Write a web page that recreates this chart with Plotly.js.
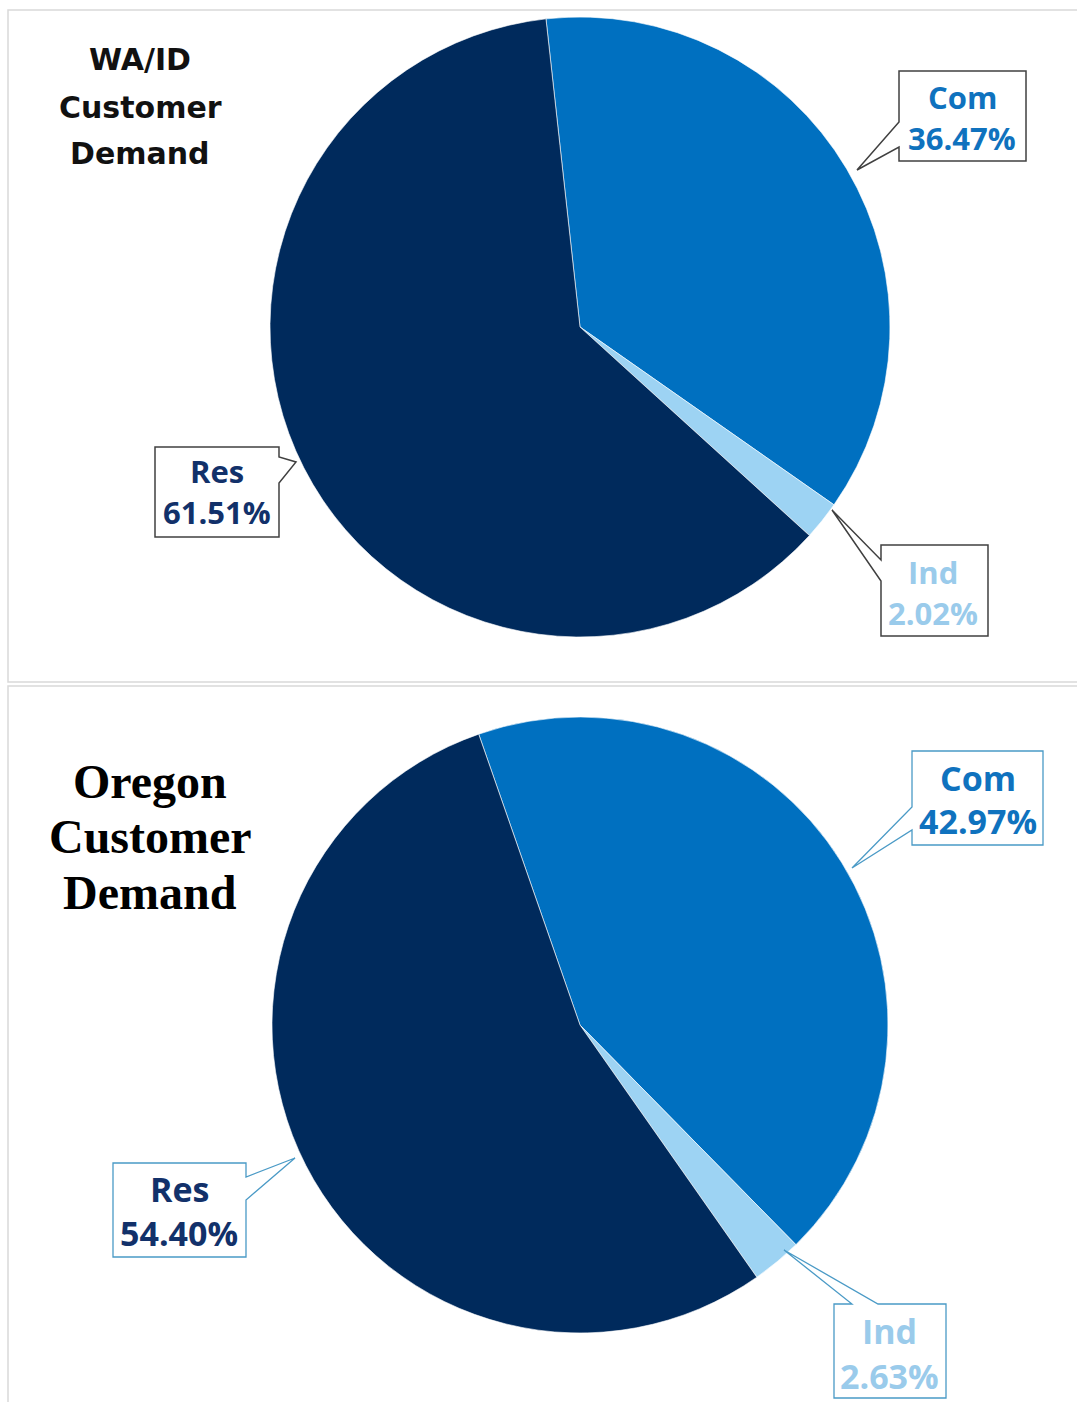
<!DOCTYPE html>
<html>
<head>
<meta charset="utf-8">
<script src="https://cdn.plot.ly/plotly-3.0.1.min.js"></script>
<style>
  html, body { margin: 0; padding: 0; background: #ffffff; }
  #chart { width: 1077px; height: 1402px; }
</style>
</head>
<body>
<div id="chart"></div>
<script>
// ---- Data ----
const categories = ['Com', 'Ind', 'Res'];
const waidShares = [36.47, 2.02, 61.51];
const oregonShares = [42.97, 2.63, 54.40];
const titleWaid = ['WA/ID', 'Customer', 'Demand'];
const titleOregon = ['Oregon', 'Customer', 'Demand'];

// ---- Styles ----
const W = 1077, H = 1402;
const sliceColors = ['#0070C0', '#9DD3F3', '#002A5C'];
const textColors = ['#0F72BE', '#9ACBEB', '#12316A'];
const px = x => x / W;
const py = y => 1 - y / H;

const fmt = v => v.toFixed(2) + '%';

const traces = [
  {
    type: 'pie', labels: categories, values: waidShares,
    sort: false, direction: 'clockwise', rotation: -6.3,
    textinfo: 'none', hoverinfo: 'label+percent',
    marker: { colors: sliceColors, line: { color: '#ffffff', width: 0.6 } },
    domain: { x: [px(270), px(890)], y: [py(637), py(17)] },
    showlegend: false
  },
  {
    type: 'pie', labels: categories, values: oregonShares,
    sort: false, direction: 'clockwise', rotation: -19.2,
    textinfo: 'none', hoverinfo: 'label+percent',
    marker: { colors: sliceColors, line: { color: '#ffffff', width: 0.6 } },
    domain: { x: [px(272), px(888)], y: [py(1333), py(717)] },
    showlegend: false
  }
];

// callout geometry (pixels): outline path with pointer, text centers, font size
const callouts = [
  // WA/ID
  { pie: 0, idx: 0, path: [[899,71],[1026,71],[1026,161],[899,161],[899,147],[857,170],[899,122]], tx: 962, ty: [97, 138], fs: 31, border: '#404040', lw: 1.5 },
  { pie: 0, idx: 2, path: [[155,447],[279,447],[279,457],[296,462],[279,483],[279,537],[155,537]], tx: 217, ty: [471, 512], fs: 31, border: '#404040', lw: 1.5 },
  { pie: 0, idx: 1, path: [[881,545],[988,545],[988,636],[881,636],[881,581],[832,510],[881,560]], tx: 933, ty: [572, 613], fs: 31, border: '#404040', lw: 1.5 },
  // Oregon
  { pie: 1, idx: 0, path: [[912,751],[1043,751],[1043,845],[912,845],[912,830],[852,868],[912,807]], tx: 978, ty: [778, 821], fs: 34, border: '#4A9AC6', lw: 1.3 },
  { pie: 1, idx: 2, path: [[113,1163],[246,1163],[246,1177],[295,1158],[246,1200],[246,1257],[113,1257]], tx: 179, ty: [1189, 1233], fs: 34, border: '#4A9AC6', lw: 1.3 },
  { pie: 1, idx: 1, path: [[834,1304],[852,1304],[784,1250],[878,1304],[946,1304],[946,1398],[834,1398]], tx: 889, ty: [1331, 1376], fs: 34, border: '#4A9AC6', lw: 1.3 }
];

const shapes = [
  { type: 'rect', xref: 'paper', yref: 'paper', x0: px(8), x1: px(1090), y0: py(682), y1: py(10), line: { color: '#D9D9D9', width: 1.5 }, fillcolor: 'rgba(0,0,0,0)', layer: 'below' },
  { type: 'rect', xref: 'paper', yref: 'paper', x0: px(8), x1: px(1090), y0: py(1410), y1: py(686), line: { color: '#D9D9D9', width: 1.5 }, fillcolor: 'rgba(0,0,0,0)', layer: 'below' }
];
const annotations = [];

const shareSets = [waidShares, oregonShares];
callouts.forEach(c => {
  const d = 'M ' + c.path.map(p => px(p[0]).toFixed(5) + ',' + py(p[1]).toFixed(5)).join(' L ') + ' Z';
  shapes.push({ type: 'path', xref: 'paper', yref: 'paper', path: d, fillcolor: '#ffffff', line: { color: c.border, width: c.lw }, layer: 'above' });
  const texts = [categories[c.idx], fmt(shareSets[c.pie][c.idx])];
  texts.forEach((t, k) => {
    annotations.push({
      xref: 'paper', yref: 'paper', x: px(c.tx), y: py(c.ty[k]),
      xanchor: 'center', yanchor: 'middle', showarrow: false, text: t,
      font: { family: 'Open Sans, sans-serif', size: c.fs, weight: 700, color: textColors[c.idx] }
    });
  });
});

const titleWaidY = [60, 107, 153];
titleWaid.forEach((t, i) => annotations.push({
  xref: 'paper', yref: 'paper', x: px(140), y: py(titleWaidY[i]),
  xanchor: 'center', yanchor: 'middle', showarrow: false, text: t,
  font: { family: 'DejaVu Sans, sans-serif', size: 30, weight: 700, color: '#111111' }
}));
const titleOregonY = [781, 836, 892];
titleOregon.forEach((t, i) => annotations.push({
  xref: 'paper', yref: 'paper', x: px(150), y: py(titleOregonY[i]),
  xanchor: 'center', yanchor: 'middle', showarrow: false, text: t,
  font: { family: 'Liberation Serif, Times New Roman, serif', size: 48, weight: 700, color: '#000000' }
}));

const layout = {
  width: W, height: H,
  margin: { l: 0, r: 0, t: 0, b: 0 },
  paper_bgcolor: '#ffffff',
  showlegend: false,
  shapes: shapes,
  annotations: annotations
};

Plotly.newPlot('chart', traces, layout, { displayModeBar: false, staticPlot: true });
</script>
</body>
</html>
